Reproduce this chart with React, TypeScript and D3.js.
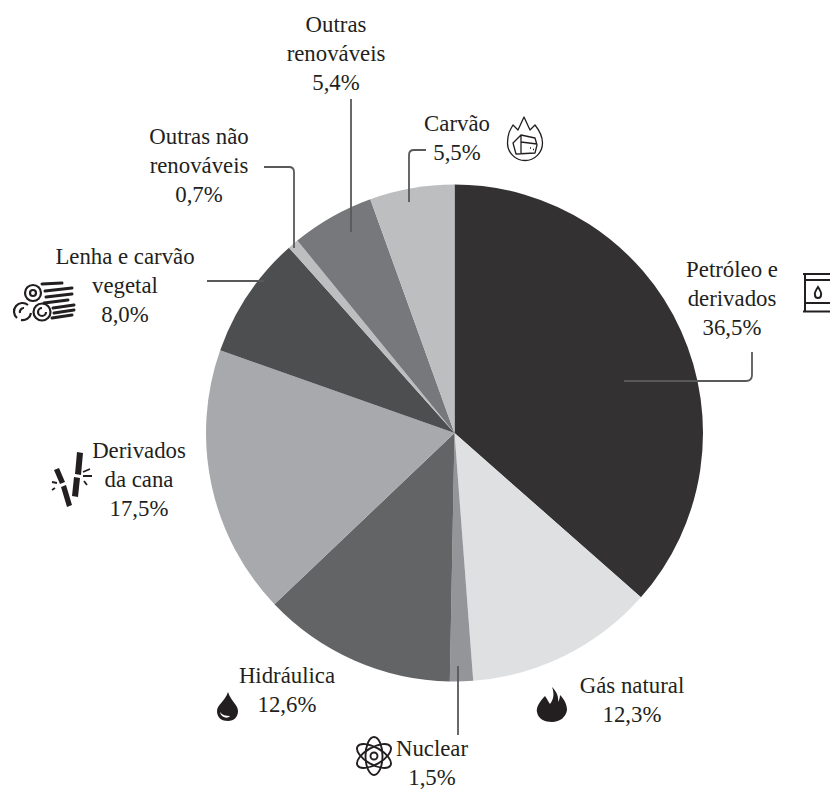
import React from "react";
import * as d3 from "d3";

const categories = ["Petróleo e derivados", "Gás natural", "Nuclear", "Hidráulica", "Derivados da cana", "Lenha e carvão vegetal", "Outras não renováveis", "Outras renováveis", "Carvão"];
const shares = [36.5, 12.3, 1.5, 12.6, 17.5, 8.0, 0.7, 5.4, 5.5];
const sliceFills = ["#333132", "#dfe0e2", "#939598", "#636466", "#a7a9ac", "#4d4e50", "#bcbec0", "#77787b", "#bcbec0"];

const labelLines = [
  ["Petróleo e", "derivados", "36,5%"],
  ["Gás natural", "12,3%"],
  ["Nuclear", "1,5%"],
  ["Hidráulica", "12,6%"],
  ["Derivados", "da cana", "17,5%"],
  ["Lenha e carvão", "vegetal", "8,0%"],
  ["Outras não", "renováveis", "0,7%"],
  ["Outras", "renováveis", "5,4%"],
  ["Carvão", "5,5%"],
];
const labelAnchors: [number, number][] = [
  [732, 277], [632, 693], [432, 756], [287, 683], [139, 458], [125, 264], [199, 144], [336, 32], [457, 131],
];
const leaders = [
  "M624,381H746Q752,381 752,375V352",
  "M458,666V735",
  "M207,281H264",
  "M294,248V172Q294,167 289,167H264",
  "M351,232V99",
  "M409,202V155Q409,150 414,150H426",
];

const FONT = "'Liberation Serif', serif";
const INK = "#231f20";

export default function App() {
  const cx = 454.5, cy = 433, r = 248.5;
  const pie = d3.pie<number>().sort(null)(shares);
  const arc = d3.arc<d3.PieArcDatum<number>>().innerRadius(0).outerRadius(r);
  return (
    <svg width={830} height={789} style={{ position: "absolute", left: 0, top: 0, background: "#fff" }}>
      <g transform={`translate(${cx},${cy})`}>
        {pie.map((d, i) => (
          <path key={categories[i]} d={arc(d) ?? ""} fill={sliceFills[i]} />
        ))}
      </g>
      {leaders.map((d, i) => (
        <path key={i} d={d} fill="none" stroke="#58595b" strokeWidth={1.8} />
      ))}
      {labelLines.map((lines, i) => (
        <text key={i} fontFamily={FONT} fontSize={22.8} fill={INK} textAnchor="middle">
          {lines.map((t, j) => (
            <tspan key={j} x={labelAnchors[i][0]} y={labelAnchors[i][1] + j * 28.8}>{t}</tspan>
          ))}
        </text>
      ))}

      {/* Coal icon */}
      <g fill="none" stroke={INK} strokeWidth={1.3} strokeLinejoin="round">
        <path d="M507.5,143 C507.5,134 510,130 513,125 L518,130 L524,117 L530,130 L535,125 C539,130 542.5,136 542.5,143 A17.5,17.5 0 0 1 507.5,143Z" />
        <path d="M513,143 L521,135 L535,138 L537,145 L535,153 L516,154Z M521,135 V153.5 M521,142 L537,144" />
        <path d="M530,148h1M533,149.500h1" />
      </g>
      {/* Barrel */}
      <g fill="none" stroke={INK} strokeWidth={2}>
        <path d="M803,274H830M805,274V311M803,311.500H830M805,280H830M805,303H830" />
        <path d="M818,287 Q814,293 815,295 A3,3 0 0 0 821,295 Q822,293 818,287Z" />
      </g>
      {/* Flame */}
      <path fill={INK} d="M552,687 C555,695 553,700 550,704 C548,701 547,699 545,696 C539,702 536,708 537,712 C538,719 545,722 552,722 C560,722 566,717 567,710 C567,704 564,699 560,695 C560,698 559,700 558,702 C559,696 556,691 552,687Z" />
      {/* Drop */}
      <path fill={INK} d="M228,692 C225,701 217,705 217,711 C217,718 222,721 228,721 C234,721 238,717 238,711 C238,705 231,701 228,692Z" />
      <path fill="#fff" d="M220,712 C222,715 226,716 230,716 C228,719 221,718 220,712Z" />
      {/* Atom */}
      <g fill="none" stroke={INK} strokeWidth={1.9} transform="translate(374,756)">
        <ellipse rx={19} ry={8.5} transform="rotate(90)" />
        <ellipse rx={19} ry={8.5} transform="rotate(30)" />
        <ellipse rx={19} ry={8.5} transform="rotate(-30)" />
        <circle r={3.5} />
      </g>
      {/* Cane */}
      <g fill={INK}>
        <path d="M77,452L83,453L81,475L75,474ZM74,477L80,478L78,497L72,496Z" />
        <path d="M54,470L59,468L65,482L60,484ZM61,487L66,485L72,505L67,507Z" />
      </g>
      <g stroke={INK} strokeWidth={1.8} fill="none">
        <path d="M83,472L90,469M83,476L92,476M84,481L87,485M52,482L57,483M55,488L52,490" />
      </g>
      {/* Logs */}
      <g fill="none" stroke={INK} strokeWidth={2.2}>
        <circle cx={33} cy={293} r={8} />
        <circle cx={33} cy={293} r={3} />
        <path d="M28,305A8.500,8.500 0 0 0 17,318M21,320A8.500,8.500 0 0 0 31,313M24,308A4,4 0 0 0 20,313" />
        <circle cx={42} cy={312} r={8.500} />
        <path d="M42,308A4,4 0 1 0 46,312" />
      </g>
      <g stroke={INK} strokeWidth={3} fill="none" strokeLinecap="round">
        <path d="M42,284L62,283M45,291L72,288M46,297L72,294M44,303L68,300M53,308L74,305M54,313L74,310M52,318L72,315" />
      </g>
    </svg>
  );
}
